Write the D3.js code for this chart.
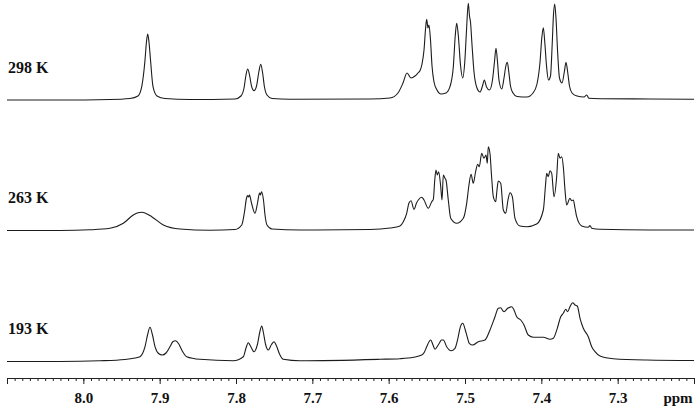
<!DOCTYPE html>
<html><head><meta charset="utf-8">
<script src="https://cdn.jsdelivr.net/npm/d3@7"></script>
<style>body{margin:0;background:#fff}svg{display:block}</style>
</head><body>
<script>
// ---- data (ppm, intensity above baseline) ----
const temps = ["298 K", "263 K", "193 K"];
const tickValuesMajor = [8.0, 7.9, 7.8, 7.7, 7.6, 7.5, 7.4, 7.3];
const tickLabels = ["8.0", "7.9", "7.8", "7.7", "7.6", "7.5", "7.4", "7.3"];
const axisUnit = "ppm";

const spec298 = [
[8.1,0],[8.0306,0],[7.9651,0.5],[7.9389,1.5],[7.9284,4],[7.9235,13.3],[7.9192,40],[7.9173,58],[7.9157,66],[7.9140,58],[7.9120,40],[7.9087,13.3],[7.9035,4],[7.8930,1.5],[7.8603,0.5],
[7.8013,1],[7.7935,4],[7.7895,12],[7.7869,25],[7.7847,31],[7.7823,25],[7.7797,14],[7.7764,9.3],[7.7731,14],[7.7701,28],[7.7676,35.7],[7.7653,28],[7.7627,13],[7.7594,5],[7.7528,1.5],[7.7293,0.7],
[7.6245,1],[7.5982,2],[7.5878,7],[7.5812,17],[7.5760,27],[7.5707,22],[7.5655,24],[7.5616,27],[7.5590,29.3],[7.5563,36],[7.5537,50],[7.5516,72],[7.5502,80.7],[7.5485,72],[7.5472,75],[7.5452,60],[7.5432,34],[7.5406,18],[7.5367,10],[7.5314,6],[7.5249,7],
[7.5197,13.3],[7.5153,33.3],[7.5127,65],[7.5109,76.7],[7.5088,65],[7.5059,35],[7.5030,22],[7.5003,38],[7.4980,70],[7.4957,96.7],[7.4941,84],[7.4928,78],[7.4908,55],[7.4882,28],[7.4843,12],[7.4803,8],[7.4771,14],[7.4747,20],[7.4718,13],[7.4679,10],[7.4640,20],[7.4614,38],[7.4594,51.7],[7.4574,38],[7.4555,20],[7.4519,11],[7.4489,22],[7.4465,34],[7.4446,37.7],[7.4426,28],[7.4404,14],[7.4371,7],[7.4319,3.5],[7.4188,3],
[7.4109,7],[7.4057,16],[7.4017,38],[7.3994,62],[7.3974,72.3],[7.3955,58],[7.3932,34],[7.3906,20],[7.3880,24],[7.3858,55],[7.3841,85],[7.3825,96],[7.3808,82],[7.3788,50],[7.3762,22],[7.3729,17],[7.3699,28],[7.3677,37.7],[7.3655,28],[7.3631,14],[7.3598,7],[7.3533,4],[7.3441,3],[7.3406,5],[7.3376,1.7],[7.3231,1.3],[7.2576,1],[7.2,0.7]
];

const spec263 = [
[8.1,0],[8.0306,0],[7.9913,0.7],[7.9651,2.2],[7.9476,7.2],[7.9345,15.5],[7.9284,17.7],[7.9235,18.2],[7.9179,17],[7.9104,13.8],[7.8952,5.5],[7.8734,1.5],[7.8341,0.3],
[7.8013,1],[7.7925,5.5],[7.7889,18.5],[7.7862,32.5],[7.7849,35],[7.7836,33.5],[7.7823,35.5],[7.7797,27.5],[7.7751,17.2],[7.7718,27.5],[7.7692,37.5],[7.7679,35.5],[7.7666,38.8],[7.7640,30.5],[7.7620,15.5],[7.7594,5.5],[7.7528,1.5],[7.7162,0.5],
[7.6245,1],[7.5982,2.5],[7.5852,4.5],[7.5808,8.8],[7.5764,17.2],[7.5734,27.5],[7.5707,29.8],[7.5668,21.2],[7.5635,27.5],[7.5612,30.5],[7.5567,33.2],[7.5537,30.5],[7.5481,22.2],[7.5436,28.8],[7.5415,31.2],[7.5396,50.5],[7.5380,60.5],[7.5363,55.5],[7.5345,58.8],[7.5318,43.8],[7.5301,30.5],[7.5284,55.5],[7.5262,52.2],[7.5249,50.5],[7.5219,30.5],[7.5187,12.2],[7.5109,7.2],[7.5022,12.2],
[7.4978,27.2],[7.4948,45.5],[7.4921,56.2],[7.4891,47.2],[7.4862,58.5],[7.4834,66.2],[7.4813,63.8],[7.4781,77.2],[7.4751,72.2],[7.4725,75.5],[7.4708,67.2],[7.4695,83.8],[7.4673,77.2],[7.4653,55.5],[7.4629,33.8],[7.4598,28.8],[7.4581,40.5],[7.4564,49.5],[7.4532,47.2],[7.4498,20.5],[7.4467,17.2],[7.4437,30.5],[7.4410,37.8],[7.4380,33.8],[7.4345,12.2],[7.4280,4.5],[7.4192,3.8],[7.4061,6.5],
[7.3974,20.5],[7.3945,45.5],[7.3930,57.2],[7.3909,53.8],[7.3886,59.8],[7.3864,57.2],[7.3834,33.8],[7.3799,53.8],[7.3778,77.2],[7.3755,72.2],[7.3733,73.8],[7.3712,63.8],[7.3690,40.5],[7.3668,25.5],[7.3625,32.2],[7.3602,29.8],[7.3581,30.5],[7.3559,22.5],[7.3537,13.8],[7.3471,4.5],[7.3385,3.2],[7.3362,5],[7.3340,2.2],[7.3231,1.2],[7.2576,0.5],[7.2,0.5]
];

const spec193 = [
[8.1,0],[8.0306,0],[7.9782,0.7],[7.9454,2],[7.9323,3.5],[7.9258,4.8],[7.9192,14.8],[7.9159,26.5],[7.9127,34.2],[7.9094,26.5],[7.9061,14.8],[7.9015,8],[7.8966,6.5],[7.8917,8.5],[7.8865,14.8],[7.8825,20],[7.8790,20.8],[7.8753,18],[7.8711,11.5],[7.8646,4.8],[7.8472,2.2],
[7.8035,0.8],[7.7904,4.8],[7.7869,13.5],[7.7839,18.8],[7.7810,15.5],[7.7764,9.8],[7.7718,17.5],[7.7688,29.5],[7.7663,35.5],[7.7640,28.5],[7.7614,17.5],[7.7577,11.5],[7.7535,17],[7.7502,19.8],[7.7469,15.5],[7.7430,7.5],[7.7380,2.2],[7.7162,0.7],
[7.6114,2.2],[7.5852,2.8],[7.5677,4.2],[7.5567,6.5],[7.5531,9.5],[7.5502,14.8],[7.5449,21.5],[7.5419,16.5],[7.5393,12.2],[7.5367,14.5],[7.5337,18.2],[7.5308,21.5],[7.5284,21.5],[7.5240,14.8],[7.5183,10.8],[7.5131,13.2],[7.5092,23.5],[7.5066,33.2],[7.5030,38.2],[7.4996,31.5],[7.4967,23.5],[7.4944,18.2],[7.4899,16.5],[7.4826,19.8],[7.4738,21.5],
[7.4673,31.5],[7.4607,44.8],[7.4564,53.2],[7.4532,53.8],[7.4502,50.5],[7.4489,49.8],[7.4440,53.2],[7.4388,54.8],[7.4358,51.5],[7.4323,44.8],[7.4270,41.5],[7.4227,36.5],[7.4171,26.5],[7.4105,24.2],[7.3974,24.2],[7.3886,22.2],[7.3843,23.2],[7.3791,33.2],[7.3746,44.8],[7.3712,48.2],[7.3681,52.2],[7.3655,49.8],[7.3625,54.8],[7.3589,58.8],[7.3559,56.5],[7.3529,55.5],[7.3493,43.2],[7.3450,33.2],[7.3385,24.8],[7.3340,14.8],[7.3297,9.8],[7.3231,5.5],[7.3057,2.8],[7.2620,1.5],[7.2,1]
];

const spectra = [spec298, spec263, spec193];

// ---- layout ----
const W = 700, H = 411;
const baselines = [100, 230.5, 361.5];
const axisY = 378;

const svg = d3.select("body").append("svg").attr("width", W).attr("height", H);

const x = d3.scaleLinear().domain([8.1, 7.2]).range([7, 694]);
const y = d3.scaleLinear().domain([0, 100]).range([0, -100]);

const line = d3.line()
  .x(d => x(d[0]))
  .y(d => y(d[1]))
  .curve(d3.curveMonotoneX);

spectra.forEach((s, i) => {
  const g = svg.append("g").attr("transform", `translate(0,${baselines[i]})`);
  g.append("path").datum(s)
    .attr("d", line)
    .attr("fill", "none")
    .attr("stroke", "#1c1c1c")
    .attr("stroke-width", 1.1)
    .attr("stroke-linejoin", "round");
  g.append("text")
    .attr("x", 8).attr("y", -27.5)
    .attr("font-family", "'Liberation Serif','Times New Roman',serif")
    .attr("font-weight", "bold")
    .attr("font-size", 16)
    .attr("fill", "#111")
    .text(temps[i]);
});

// axis
const minorTicks = d3.range(0, 91).map(k => +(8.1 - k * 0.01).toFixed(2));
const axG = svg.append("g").attr("transform", `translate(0,${axisY})`);
axG.append("g").call(d3.axisBottom(x).tickValues(minorTicks).tickSize(3).tickSizeOuter(0).tickFormat(""));
axG.append("g").call(d3.axisBottom(x).tickValues([8.1, 7.2]).tickSize(6).tickSizeOuter(0).tickFormat(""));
axG.append("g").call(d3.axisBottom(x).tickValues(tickValuesMajor).tickSize(6).tickSizeOuter(0).tickPadding(8)
  .tickFormat((d, i) => tickLabels[i]));
axG.selectAll("path.domain").attr("stroke", "#222");
axG.selectAll("line").attr("stroke", "#222");
axG.selectAll("text")
  .attr("font-family", "'Liberation Serif','Times New Roman',serif")
  .attr("font-weight", "bold")
  .attr("font-size", 15)
  .attr("fill", "#111");
axG.append("text")
  .attr("x", 678).attr("y", 25)
  .attr("text-anchor", "middle")
  .attr("font-family", "'Liberation Serif','Times New Roman',serif")
  .attr("font-weight", "bold")
  .attr("font-size", 15)
  .attr("fill", "#111")
  .text(axisUnit);
</script>
</body></html>
